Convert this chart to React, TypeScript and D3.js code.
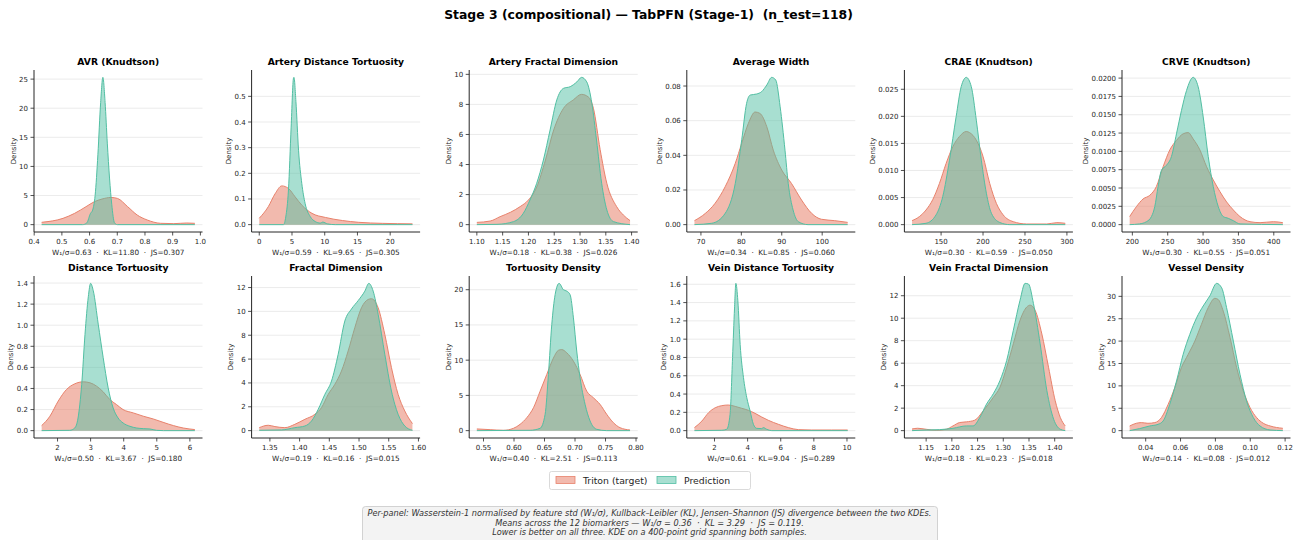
import React from 'react';
import * as d3 from 'd3';

type P = [number, number];

const titles = [
  'AVR (Knudtson)', 'Artery Distance Tortuosity', 'Artery Fractal Dimension', 'Average Width', 'CRAE (Knudtson)', 'CRVE (Knudtson)',
  'Distance Tortuosity', 'Fractal Dimension', 'Tortuosity Density', 'Vein Distance Tortuosity', 'Vein Fractal Dimension', 'Vessel Density',
];
const w1 = ['0.63', '0.59', '0.18', '0.34', '0.30', '0.30', '0.50', '0.19', '0.40', '0.61', '0.18', '0.14'];
const kl = ['11.80', '9.65', '0.38', '0.85', '0.59', '0.55', '3.67', '0.16', '2.51', '9.04', '0.23', '0.08'];
const js = ['0.307', '0.305', '0.026', '0.060', '0.050', '0.051', '0.180', '0.015', '0.113', '0.289', '0.018', '0.012'];

const avrTriton: P[] = [[0.427,0.40],[0.504,1.08],[0.546,1.94],[0.587,3.08],[0.617,3.93],[0.645,4.4],[0.677,4.67],[0.701,4.5],[0.737,3.1],[0.772,1.65],[0.808,0.8],[0.856,0.23],[0.904,0.17],[0.951,0.28],[0.98,0.23]];
const avrPred: P[] = [[0.427,0],[0.575,0],[0.59,0.3],[0.603,1.9],[0.611,2.5],[0.62,5],[0.63,12],[0.64,21],[0.648,25.3],[0.656,21],[0.664,14],[0.672,8],[0.68,3.5],[0.69,0.3],[0.70,0],[0.98,0]];
const adtTriton: P[] = [[0,0.025],[1.38,0.07],[2.41,0.12],[3.44,0.151],[4.46,0.141],[5.49,0.108],[6.5,0.076],[8.05,0.044],[10.1,0.028],[12.7,0.016],[15.2,0.009],[18.8,0.005],[23.4,0.003]];
const adtPred: P[] = [[0,0],[3.7,0],[4.05,0.03],[4.46,0.135],[4.87,0.38],[5.23,0.571],[5.3,0.574],[5.6,0.48],[6.0,0.29],[6.5,0.16],[7.0,0.083],[7.8,0.031],[8.56,0.012],[9.33,0.006],[9.7,0.01],[10.4,0.003],[11.6,0],[23.4,0]];
const afdTriton: P[] = [[1.10,0.15],[1.126,0.24],[1.145,0.53],[1.165,0.82],[1.184,1.2],[1.20,1.64],[1.216,2.5],[1.233,4.3],[1.249,6.3],[1.268,7.74],[1.287,8.3],[1.303,8.67],[1.316,8.5],[1.326,7.74],[1.339,5.0],[1.352,2.75],[1.371,1.2],[1.384,0.64],[1.397,0.27]];
const afdPred: P[] = [[1.10,0],[1.139,0.02],[1.171,0.2],[1.19,0.75],[1.203,1.64],[1.216,2.75],[1.229,4.3],[1.242,6.3],[1.255,8.3],[1.268,9.07],[1.281,9.18],[1.294,9.5],[1.303,9.8],[1.313,9.5],[1.323,8.07],[1.332,5.63],[1.342,2.75],[1.352,0.98],[1.365,0.2],[1.397,0]];
const awTriton: P[] = [[68.4,0.0023],[71.1,0.0065],[73.5,0.0123],[76,0.0219],[78.5,0.0354],[80.1,0.047],[81.75,0.0585],[83.4,0.065],[84.6,0.0642],[86.3,0.0565],[87.9,0.043],[90,0.0315],[92.4,0.0238],[94.9,0.0142],[97.4,0.0065],[99.8,0.0031],[103.1,0.0023],[106.3,0.0013]];
const awPred: P[] = [[68.4,0],[72.7,0.0008],[76,0.0065],[78.5,0.0238],[80.1,0.049],[81.3,0.07],[82.2,0.0748],[83.8,0.0754],[85,0.0767],[86.3,0.0806],[87.5,0.085],[88.5,0.0835],[89.6,0.068],[90.8,0.043],[91.6,0.0238],[92.8,0.0085],[94.1,0.0017],[96.5,0],[106.3,0]];
const craeTriton: P[] = [[115.4,0.00074],[124.1,0.00148],[132,0.0027],[140,0.0046],[148,0.0076],[156,0.0113],[164,0.0144],[172,0.0163],[180,0.0172],[184,0.017],[192,0.0156],[200,0.0126],[208,0.0076],[216,0.0039],[224,0.0018],[236,0.00055],[252,0.00012],[276,0.00012],[288,0.00037],[298,0.00025]];
const craePred: P[] = [[115.4,0],[132,0.00025],[144,0.0018],[152,0.0052],[160,0.0119],[168,0.02],[174,0.0255],[180,0.0272],[186,0.0255],[192,0.0193],[198,0.0119],[204,0.0058],[210,0.0021],[220,0.0004],[232,0],[298,0]];
const crveTriton: P[] = [[196.2,0.0011],[205.7,0.00245],[215.1,0.0035],[224.6,0.004],[234,0.0052],[243.5,0.0079],[253,0.0102],[262.4,0.0115],[271.9,0.0124],[279,0.01256],[286,0.0117],[295.5,0.0102],[305,0.0079],[314.4,0.0061],[323.9,0.0045],[333.3,0.0031],[342.8,0.002],[352.2,0.0011],[366.4,0.0004],[380.6,0.00027],[399.5,0.0004],[412.8,0.00027]];
const crvePred: P[] = [[196.2,0],[210,0.0001],[219.9,0.0004],[227,0.0011],[231.7,0.00245],[236.4,0.0052],[241.1,0.0074],[248.2,0.0081],[255.3,0.0093],[262.4,0.0124],[269.5,0.0156],[276.6,0.0183],[286,0.0201],[293.1,0.0188],[300.2,0.0147],[307.3,0.0093],[314.4,0.0052],[321.5,0.00245],[328.6,0.0011],[335.7,0.00086],[342.8,0.00054],[352.2,0.0001],[412.8,0]];
const dtTriton: P[] = [[1.52,0.048],[1.77,0.137],[2.02,0.28],[2.27,0.39],[2.52,0.444],[2.78,0.463],[2.98,0.454],[3.18,0.422],[3.38,0.368],[3.58,0.295],[3.78,0.248],[3.98,0.2],[4.29,0.168],[4.59,0.137],[4.89,0.111],[5.19,0.079],[5.5,0.048],[5.8,0.025],[6.15,0.01]];
const dtPred: P[] = [[1.52,0],[2.37,0.003],[2.52,0.025],[2.62,0.12],[2.73,0.438],[2.83,0.914],[2.93,1.27],[3.0,1.397],[3.08,1.327],[3.23,1.01],[3.38,0.692],[3.53,0.406],[3.68,0.216],[3.83,0.12],[3.98,0.073],[4.19,0.041],[4.39,0.025],[4.59,0.019],[4.79,0.016],[4.99,0.003],[5.2,0],[6.15,0]];
const fdTriton: P[] = [[1.3321,0.25],[1.3472,0.45],[1.3584,0.34],[1.3752,0.25],[1.392,0.53],[1.4089,0.95],[1.4257,1.37],[1.4369,1.93],[1.4481,3.04],[1.4593,3.88],[1.4705,5.0],[1.4817,6.68],[1.4929,8.63],[1.5041,10.3],[1.5154,11.0],[1.521,11.06],[1.5322,10.3],[1.5434,8.07],[1.5546,5.28],[1.5658,3.04],[1.577,1.65],[1.5899,0.59]];
const fdPred: P[] = [[1.3321,0.03],[1.3696,0.06],[1.392,0.25],[1.4089,0.39],[1.4201,0.81],[1.4313,1.79],[1.4425,3.04],[1.4537,4.16],[1.4649,6.4],[1.4761,9.19],[1.4873,10.2],[1.4985,10.9],[1.5098,11.7],[1.5165,12.35],[1.5238,11.7],[1.5322,9.75],[1.5434,6.4],[1.5546,3.32],[1.5658,1.37],[1.577,0.39],[1.5899,0.03]];
const tdTriton: P[] = [[0.5391,0.24],[0.5609,0.14],[0.5828,0.05],[0.5991,0.33],[0.61,0.9],[0.621,1.84],[0.6319,3.25],[0.6428,5.6],[0.6537,7.97],[0.6646,10.3],[0.6728,11.4],[0.6783,11.5],[0.6865,11.04],[0.6974,9.86],[0.7083,7.97],[0.7192,5.6],[0.7301,4.67],[0.741,3.73],[0.752,2.31],[0.7629,1.13],[0.7738,0.42],[0.7902,0.09]];
const tdPred: P[] = [[0.5391,0],[0.6264,0.05],[0.6428,0.33],[0.651,2.31],[0.6564,7.97],[0.6619,15.05],[0.6674,19.3],[0.6739,20.9],[0.681,20],[0.6865,19.8],[0.6919,19.3],[0.6974,16],[0.7028,11.3],[0.7083,7.5],[0.7165,3.73],[0.7247,1.37],[0.7356,0.19],[0.752,0],[0.7902,0]];
const vdtTriton: P[] = [[0.79,0.033],[1.24,0.105],[1.64,0.196],[2.04,0.25],[2.44,0.273],[2.84,0.28],[3.25,0.265],[3.65,0.244],[4.05,0.222],[4.45,0.189],[4.85,0.149],[5.25,0.113],[5.86,0.069],[6.46,0.033],[7.06,0.011],[7.87,0.007],[9.07,0.007],[10.04,0.007]];
const vdtPred: P[] = [[0.79,0],[2.44,0.004],[2.74,0.015],[2.94,0.178],[3.09,0.8],[3.21,1.34],[3.29,1.61],[3.41,1.42],[3.55,0.94],[3.75,0.58],[3.95,0.36],[4.15,0.215],[4.35,0.069],[4.55,0.025],[4.85,0.022],[4.95,0.033],[5.15,0.015],[5.46,0],[10.04,0]];
const vfdTriton: P[] = [[1.1226,0.15],[1.1337,0.21],[1.15,0.12],[1.1696,0.03],[1.189,0.12],[1.2022,0.42],[1.2152,0.72],[1.2283,0.78],[1.2446,0.93],[1.261,1.76],[1.2806,2.96],[1.2935,3.85],[1.3066,5.64],[1.3196,7.73],[1.3326,9.82],[1.3457,11.0],[1.3522,11.16],[1.362,10.7],[1.375,8.6],[1.388,5.64],[1.401,2.66],[1.411,1.16],[1.4205,0.42]];
const vfdPred: P[] = [[1.1226,0],[1.15,0.06],[1.176,0.09],[1.2022,0.21],[1.2283,0.42],[1.2413,0.42],[1.2543,1.16],[1.2674,2.36],[1.2806,3.28],[1.2935,4.45],[1.3066,6.24],[1.3196,8.93],[1.3326,11.6],[1.3424,13.1],[1.349,13.04],[1.3587,11.3],[1.3717,7.73],[1.3848,3.55],[1.398,1.01],[1.411,0.12],[1.4205,0]];
const vdTriton: P[] = [[0.0308,1.04],[0.0346,1.64],[0.0375,1.79],[0.0413,1.64],[0.0452,1.79],[0.049,2.9],[0.0529,5.88],[0.0567,9.6],[0.0605,14.07],[0.0644,17.05],[0.0682,20.0],[0.072,23.75],[0.0759,27.5],[0.0797,29.56],[0.0816,29.3],[0.0845,26.7],[0.0884,20.8],[0.0922,14.07],[0.096,8.86],[0.0999,5.14],[0.1037,2.9],[0.1075,1.64],[0.1114,1.04],[0.1187,0.52]];
const vdPred: P[] = [[0.0308,0],[0.0365,0.45],[0.0423,1.04],[0.0471,1.41],[0.05,2.16],[0.0538,5.88],[0.0577,11.1],[0.0615,17.05],[0.0653,21.5],[0.0692,25.2],[0.073,27.85],[0.0768,30.1],[0.0807,32.9],[0.0836,31.9],[0.0864,27.5],[0.0903,20.0],[0.0941,12.6],[0.0979,6.6],[0.1018,2.9],[0.1056,1.04],[0.1114,0.15],[0.1187,0]];

const tritonSeries = [avrTriton, adtTriton, afdTriton, awTriton, craeTriton, crveTriton, dtTriton, fdTriton, tdTriton, vdtTriton, vfdTriton, vdTriton];
const predSeries = [avrPred, adtPred, afdPred, awPred, craePred, crvePred, dtPred, fdPred, tdPred, vdtPred, vfdPred, vdPred];

const xTicks = [
  [0.4,0.5,0.6,0.7,0.8,0.9,1.0], [0,5,10,15,20], [1.10,1.15,1.20,1.25,1.30,1.35,1.40], [70,80,90,100], [150,200,250,300], [200,250,300,350,400],
  [2,3,4,5,6], [1.35,1.40,1.45,1.50,1.55,1.60], [0.55,0.60,0.65,0.70,0.75,0.80], [2,4,6,8,10], [1.15,1.20,1.25,1.30,1.35,1.40], [0.04,0.06,0.08,0.10,0.12],
];
const xDec = [1, 0, 2, 0, 0, 0, 0, 2, 2, 0, 2, 2];
const yTicks = [
  [0,5,10,15,20,25], [0,0.1,0.2,0.3,0.4,0.5], [0,2,4,6,8,10], [0,0.02,0.04,0.06,0.08], [0,0.005,0.01,0.015,0.02,0.025], [0,0.0025,0.005,0.0075,0.01,0.0125,0.015,0.0175,0.02],
  [0,0.2,0.4,0.6,0.8,1.0,1.2,1.4], [0,2,4,6,8,10,12], [0,5,10,15,20], [0,0.2,0.4,0.6,0.8,1.0,1.2,1.4,1.6], [0,2,4,6,8,10,12], [0,5,10,15,20,25,30],
];
const yDec = [0, 1, 0, 2, 3, 4, 1, 0, 0, 1, 0, 0];

const legendLabels = ['Triton (target)', 'Prediction'];
const footerLines = [
  'Per-panel: Wasserstein-1 normalised by feature std (W\u2081/\u03c3), Kullback\u2013Leibler (KL), Jensen\u2013Shannon (JS) divergence between the two KDEs.',
  'Means across the 12 biomarkers \u2014 W\u2081/\u03c3 = 0.36  \u00b7  KL = 3.29  \u00b7  JS = 0.119.',
  'Lower is better on all three. KDE on a 400-point grid spanning both samples.',
];
const mainTitle = 'Stage 3 (compositional) \u2014 TabPFN (Stage-1)  (n_test=118)';

const FONT = "'DejaVu Sans', sans-serif";
const SALMON = '#E8826C';
const TEAL = '#52BFA3';
const INK = '#262626';

function textWidth(s: string, size: number) {
  let w = 0;
  for (const c of s) w += c === '.' ? 0.318 : c === '-' ? 0.361 : 0.636;
  return w * size;
}

function Panel({ idx }: { idx: number }) {
  const col = idx % 6;
  const row = Math.floor(idx / 6);
  const left = 34 + col * 217.6;
  const top = row === 0 ? 70 : 276;
  const w = 168.5;
  const h = 162;
  const tri = tritonSeries[idx];
  const pred = predSeries[idx];
  const all = tri.concat(pred);
  const [x0, x1] = d3.extent(all, (d) => d[0]) as [number, number];
  const ymax = d3.max(all, (d) => d[1]) as number;
  const pad = (x1 - x0) * 0.05;
  const x = d3.scaleLinear().domain([x0 - pad, x1 + pad]).range([left, left + w]);
  const y = d3.scaleLinear().domain([-0.05 * ymax, 1.05 * ymax]).range([top + h, top]);
  const area = d3.area<P>().x((d) => x(d[0])).y0(y(0)).y1((d) => y(d[1])).curve(d3.curveMonotoneX);
  const line = d3.line<P>().x((d) => x(d[0])).y((d) => y(d[1])).curve(d3.curveMonotoneX);
  const [dx0, dx1] = x.domain();
  const xt = xTicks[idx].filter((t) => t >= dx0 - 1e-9 && t <= dx1 + 1e-9);
  const yt = yTicks[idx];
  const ylabs = yt.map((t) => t.toFixed(yDec[idx]));
  const maxW = d3.max(ylabs, (s) => textWidth(s, 7)) as number;
  const bottom = top + h;
  return (
    <g>
      {yt.map((t, i) => (
        <line key={'g' + i} x1={left} x2={left + w} y1={y(t)} y2={y(t)} stroke="#e6e6e6" strokeWidth={0.8} />
      ))}
      <path d={area(tri) || ''} fill={SALMON} fillOpacity={0.55} />
      <path d={line(tri) || ''} fill="none" stroke={SALMON} strokeWidth={1} />
      <path d={area(pred) || ''} fill={TEAL} fillOpacity={0.5} />
      <path d={line(pred) || ''} fill="none" stroke={TEAL} strokeWidth={1} />
      <line x1={left} x2={left} y1={top} y2={bottom} stroke={INK} strokeWidth={1} />
      <line x1={left} x2={left + w} y1={bottom} y2={bottom} stroke={INK} strokeWidth={1} />
      {yt.map((t, i) => (
        <g key={'y' + i}>
          <line x1={left - 3.5} x2={left} y1={y(t)} y2={y(t)} stroke={INK} strokeWidth={0.8} />
          <text x={left - 6} y={y(t) + 2.5} fontSize={7} textAnchor="end" fill={INK} fontFamily={FONT}>{ylabs[i]}</text>
        </g>
      ))}
      {xt.map((t, i) => (
        <g key={'x' + i}>
          <line x1={x(t)} x2={x(t)} y1={bottom} y2={bottom + 3.5} stroke={INK} strokeWidth={0.8} />
          <text x={x(t)} y={bottom + 12} fontSize={7} textAnchor="middle" fill={INK} fontFamily={FONT}>{t.toFixed(xDec[idx])}</text>
        </g>
      ))}
      <text
        transform={`translate(${left - 6 - maxW - 3.5},${top + h / 2}) rotate(-90)`}
        fontSize={7} textAnchor="middle" fill={INK} fontFamily={FONT}
      >Density</text>
      <text x={left + w / 2} y={top - 5} fontSize={9.2} fontWeight="bold" textAnchor="middle" fill="#000" fontFamily={FONT}>{titles[idx]}</text>
      <text x={left + w / 2} y={bottom + 22.5} fontSize={7.3} textAnchor="middle" fill={INK} fontFamily={FONT} style={{ whiteSpace: 'pre' }}>
        {`W\u2081/\u03c3=${w1[idx]}  \u00b7  KL=${kl[idx]}  \u00b7  JS=${js[idx]}`}
      </text>
    </g>
  );
}

export default function App() {
  const panels = d3.range(12);
  return (
    <svg width={1297} height={540} style={{ position: 'absolute', left: 0, top: 0, background: '#fff' }}>
      <rect x={0} y={0} width={1297} height={540} fill="#fff" />
      <text x={648.5} y={19} fontSize={12.4} fontWeight="bold" textAnchor="middle" fill="#000" fontFamily={FONT} style={{ whiteSpace: 'pre' }}>{mainTitle}</text>
      {panels.map((i) => <Panel key={i} idx={i} />)}
      <g>
        <rect x={549.5} y={471.5} width={201} height={18} rx={2} fill="#fff" stroke="#d0d0d0" strokeWidth={0.8} />
        <rect x={556} y={476.5} width={19} height={7} fill={SALMON} fillOpacity={0.55} stroke={SALMON} strokeWidth={0.8} />
        <text x={583} y={483.5} fontSize={9.3} fill={INK} fontFamily={FONT}>{legendLabels[0]}</text>
        <rect x={657} y={476.5} width={19} height={7} fill={TEAL} fillOpacity={0.5} stroke={TEAL} strokeWidth={0.8} />
        <text x={684} y={483.5} fontSize={9.3} fill={INK} fontFamily={FONT}>{legendLabels[1]}</text>
      </g>
      <g>
        <rect x={362.5} y={506.5} width={575} height={38} rx={3} fill="#f3f3f3" stroke="#c8c8c8" strokeWidth={0.8} />
        {footerLines.map((s, i) => (
          <text key={i} x={649.5} y={516 + i * 9.5} fontSize={8.2} fontStyle="italic" textAnchor="middle" fill="#333" fontFamily={FONT} style={{ whiteSpace: 'pre' }}>{s}</text>
        ))}
      </g>
    </svg>
  );
}
